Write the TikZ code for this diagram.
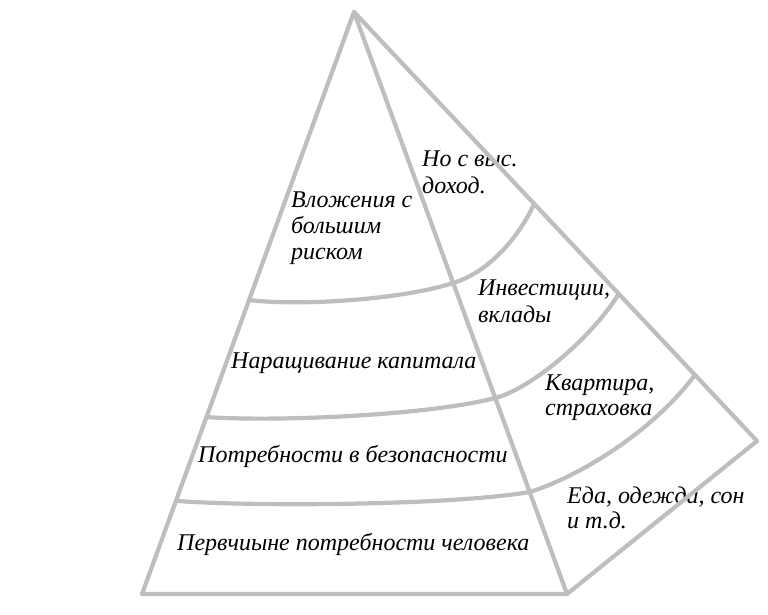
\documentclass[tikz,border=0pt]{standalone}
\usepackage{fontspec}
\setmainfont{Liberation Serif}
\usetikzlibrary{calc}
\definecolor{edgegray}{RGB}{190,190,190}
\begin{document}
\begin{tikzpicture}[x=1pt,y=-1pt,
  pline/.style={draw=edgegray, line width=4.2pt, line join=round, line cap=round},
  lbl/.style={font=\fontsize{24}{28}\selectfont\itshape, anchor=base west, inner sep=0pt, text=black}]
\useasboundingbox[fill=white] (0,0) rectangle (768,614);
% labels
\node[lbl] (t1a) at (422,166) {Но с выс.};
\node[lbl] (t1b) at (422,193) {доход.};
\node[lbl] (t2a) at (291,207) {Вложения с};
\node[lbl] (t2b) at (291,233) {большим};
\node[lbl] (t2c) at (291,259) {риском};
\node[lbl] (t3a) at (478,295) {Инвестиции,};
\node[lbl] (t3b) at (478,322) {вклады};
\node[lbl] (t4) at (231,368) {Наращивание капитала};
\node[lbl] (t5a) at (545,390) {Квартира,};
\node[lbl] (t5b) at (545,415) {страховка};
\node[lbl] (t6) at (198,462) {Потребности в безопасности};
\node[lbl] (t7a) at (567,503) {Еда, одежда, сон};
\node[lbl] (t7b) at (567,528) {и т.д.};
\node[lbl] (t8) at (177,550) {Первчиыне потребности человека};
% pyramid
\coordinate (apex) at (354,12);
\coordinate (bl) at (142,594);
\coordinate (br) at (567,594);
\coordinate (bk) at (757,441);
\draw[pline] (apex) -- (bl) -- (br) -- (bk) -- cycle;
\draw[pline] (apex) -- (br);
% divider points
\coordinate (d1l) at ($(apex)!0.495!(bl)$);
\coordinate (d1m) at ($(apex)!0.4656!(br)$);
\coordinate (d1r) at ($(apex)!0.447!(bk)$);
\coordinate (d2l) at ($(apex)!0.696!(bl)$);
\coordinate (d2m) at ($(apex)!0.6632!(br)$);
\coordinate (d2r) at ($(apex)!0.657!(bk)$);
\coordinate (d3l) at ($(apex)!0.840!(bl)$);
\coordinate (d3m) at ($(apex)!0.8247!(br)$);
\coordinate (d3r) at ($(apex)!0.846!(bk)$);
\draw[pline] (d1l) .. controls (300,306) and (400,300) .. (d1m)
  .. controls (490,272) and (520,235) .. (d1r);
\draw[pline] (d2l) .. controls (280,422) and (430,415) .. (d2m)
  .. controls (530,389) and (590,340) .. (d2r);
\draw[pline] (d3l) .. controls (260,507) and (455,505) .. (d3m)
  .. controls (575,478) and (650,435) .. (d3r);
\end{tikzpicture}
\end{document}
